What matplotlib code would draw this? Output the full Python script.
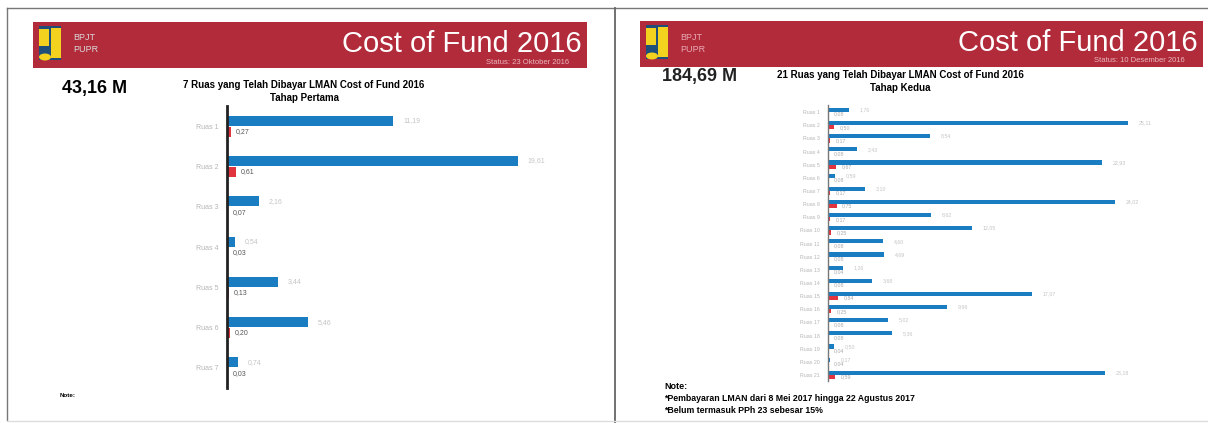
import matplotlib
matplotlib.use("Agg")
import matplotlib.pyplot as plt
import matplotlib.patches as patches
from matplotlib.lines import Line2D
import numpy as np

W, H = 1208, 423

# tahap pertama (7 ruas), miliar rupiah
ruas_1 = ["Ruas 1", "Ruas 2", "Ruas 3", "Ruas 4", "Ruas 5", "Ruas 6", "Ruas 7"]
cof_1 = [11.19, 19.61, 2.16, 0.54, 3.44, 5.46, 0.74]
pph_1 = [0.27, 0.61, 0.07, 0.03, 0.13, 0.20, 0.03]

# tahap kedua (21 ruas)
ruas_2 = ["Ruas %d" % i for i in range(1, 22)]
cof_2 = [1.76, 25.11, 8.54, 2.43, 22.93, 0.59, 3.10, 24.02, 8.62, 12.05, 4.60,
         4.69, 1.26, 3.68, 17.07, 9.96, 5.02, 5.36, 0.50, 0.17, 23.18]
pph_2 = [0.08, 0.50, 0.17, 0.08, 0.67, 0.08, 0.17, 0.75, 0.17, 0.25, 0.08,
         0.08, 0.04, 0.08, 0.84, 0.25, 0.08, 0.08, 0.04, 0.04, 0.59]

BLUE = "#1b7dc1"
RED = "#e2343e"
BANNER = "#b22b3b"

plt.rcParams['font.family'] = ['Liberation Sans', 'DejaVu Sans']


def fx(x):
    return x / W


def fy(y):
    return 1 - y / H


def fmt(v):
    return ("%.2f" % v).replace(".", ",")


def px_axes(fig, x0, y0, x1, y1):
    return fig.add_axes([fx(x0), fy(y1), (x1 - x0) / W, (y1 - y0) / H])


def banner(fig, x0, x1, y0, y1, status, txtcol):
    fig.add_artist(patches.Rectangle((fx(x0), fy(y1)), (x1 - x0) / W, (y1 - y0) / H,
                                     transform=fig.transFigure, color=BANNER, lw=0))
    # logo
    lx = x0 + 6
    fig.add_artist(patches.Rectangle((fx(lx), fy(y1 - 8)), 22 / W, 34 / H,
                                     transform=fig.transFigure, color="#1d4f7a", lw=0))
    fig.add_artist(patches.Rectangle((fx(lx), fy(y0 + 24)), 10 / W, 17 / H,
                                     transform=fig.transFigure, color="#f2d21e", lw=0))
    fig.add_artist(patches.Rectangle((fx(lx + 12), fy(y1 - 10)), 10 / W, 30 / H,
                                     transform=fig.transFigure, color="#f2d21e", lw=0))
    fig.add_artist(patches.Ellipse((fx(lx + 6), fy(y1 - 11)), 12 / W, 7 / H,
                                   transform=fig.transFigure, color="#f2d21e", lw=0))
    fig.text(fx(lx + 34), fy(y0 + 16), "BPJT", color=txtcol, fontsize=6.5, va="center")
    fig.text(fx(lx + 34), fy(y0 + 28), "PUPR", color=txtcol, fontsize=6.5, va="center")
    fig.text(fx(x1 - 5), fy(y0 + 22), "Cost of Fund 2016", color="white",
             fontsize=21, ha="right", va="center")
    fig.text(fx(x1 - 18), fy(y1 - 6), status, color="#e9b7bd", fontsize=5.5,
             ha="right", va="center")


def chart(ax, labels, cof, pph, xmax, bh, off, lblsize, valsize, spine_col, spine_w, redcol):
    y = np.arange(len(labels))
    ax.barh(y - off, cof, height=bh, color=BLUE)
    ax.barh(y + off, pph, height=bh, color=RED)
    ax.set_xlim(0, xmax)
    ax.set_ylim(len(labels) - 0.5, -0.5)
    for s in ["top", "right", "bottom"]:
        ax.spines[s].set_visible(False)
    ax.spines["left"].set_color(spine_col)
    ax.spines["left"].set_linewidth(spine_w)
    ax.set_xticks([])
    ax.set_yticks(y)
    ax.set_yticklabels(labels, fontsize=lblsize, color="#b5b5b5")
    ax.tick_params(axis="y", length=0, pad=6)
    for i in range(len(labels)):
        ax.text(cof[i] + xmax * 0.03, y[i] - off, fmt(cof[i]), fontsize=valsize,
                color="#c4c4c4", va="center")
        ax.text(pph[i] + xmax * 0.015, y[i] + off, fmt(pph[i]), fontsize=valsize,
                color=redcol, va="center")


fig = plt.figure(figsize=(W / 100, H / 100), dpi=100)

# page frames
fig.add_artist(Line2D([fx(7), fx(1208)], [fy(8), fy(8)], transform=fig.transFigure,
                      color="#777777", lw=1))
fig.add_artist(Line2D([fx(7), fx(7)], [fy(8), fy(420)], transform=fig.transFigure,
                      color="#777777", lw=1))
fig.add_artist(Line2D([fx(615), fx(615)], [fy(8), fy(423)], transform=fig.transFigure,
                      color="#666666", lw=1.3))
fig.add_artist(Line2D([fx(7), fx(1208)], [fy(421), fy(421)], transform=fig.transFigure,
                      color="#dddddd", lw=1))

# left slide
banner(fig, 33, 587, 22, 68, "Status: 23 Oktober 2016", "#d9d9d9")
fig.text(fx(62), fy(89), "43,16 M", fontsize=13, fontweight="bold", va="center")
fig.text(fx(304), fy(85), "7 Ruas yang Telah Dibayar LMAN Cost of Fund 2016",
         fontsize=7, fontweight="bold", ha="center", va="center")
fig.text(fx(304), fy(98), "Tahap Pertama", fontsize=7, fontweight="bold",
         ha="center", va="center")
ax1 = px_axes(fig, 227, 106, 560, 388)
chart(ax1, ruas_1, cof_1, pph_1, 333 * 0.0674, 0.25, 0.135, 5, 5, "#222222", 2.0, "#555555")
fig.text(fx(60), fy(395), "Note:", fontsize=4.5, fontweight="bold", va="center")

# right slide
banner(fig, 640, 1203, 21, 67, "Status: 10 Desember 2016", "#e8a9b2")
fig.text(fx(662), fy(77), "184,69 M", fontsize=13, fontweight="bold", va="center",
         color="#222222")
fig.text(fx(900), fy(75), "21 Ruas yang Telah Dibayar LMAN Cost of Fund 2016",
         fontsize=7, fontweight="bold", ha="center", va="center")
fig.text(fx(900), fy(88), "Tahap Kedua", fontsize=7, fontweight="bold",
         ha="center", va="center")
ax2 = px_axes(fig, 828, 105.5, 1180, 381.5)
chart(ax2, ruas_2, cof_2, pph_2, 352 * 0.0837, 0.32, 0.16, 3.8, 3.8, "#777777", 1.0, "#aaaaaa")
fig.text(fx(664), fy(386), "Note:", fontsize=6.5, fontweight="bold", va="center")
fig.text(fx(664), fy(398), "*Pembayaran LMAN dari 8 Mei 2017 hingga 22 Agustus 2017",
         fontsize=6.3, fontweight="bold", va="center")
fig.text(fx(664), fy(410), "*Belum termasuk PPh 23 sebesar 15%",
         fontsize=6.3, fontweight="bold", va="center")

fig.savefig("out.png", dpi=100)
